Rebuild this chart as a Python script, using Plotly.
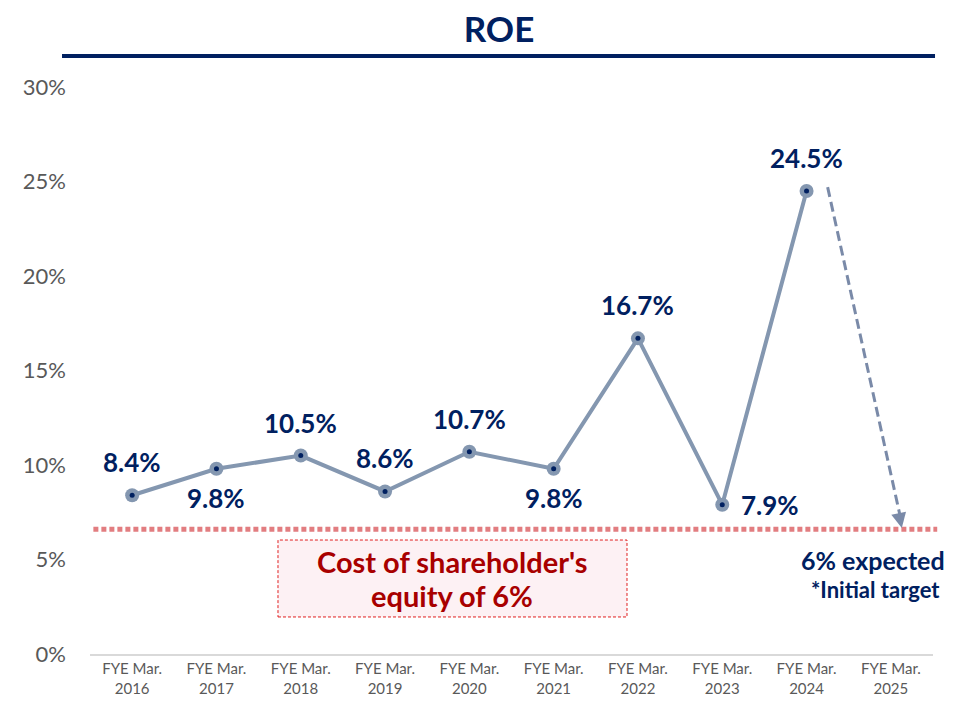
import plotly.graph_objects as go

# data
years = ["FYE Mar.<br>2016", "FYE Mar.<br>2017", "FYE Mar.<br>2018", "FYE Mar.<br>2019",
         "FYE Mar.<br>2020", "FYE Mar.<br>2021", "FYE Mar.<br>2022", "FYE Mar.<br>2023",
         "FYE Mar.<br>2024", "FYE Mar.<br>2025"]
roe = [8.4, 9.8, 10.5, 8.6, 10.7, 9.8, 16.7, 7.9, 24.5, None]
cost_of_equity_line = 6.6
y_ticks = [0, 5, 10, 15, 20, 25, 30]
y_tick_text = ["0%", "5%", "10%", "15%", "20%", "25%", "30%"]

# where each value label sits relative to its point
label_pos = ["above", "below", "above", "above", "above", "below", "above", "right", "above"]

NAVY = "#002060"
LINE = "#8497B0"
FONT = "Lato"
OFF = 8  # page body margin in the rendered html

fig = go.Figure()

fig.add_trace(go.Scatter(
    x=years, y=roe, mode="lines+markers",
    line=dict(color=LINE, width=4),
    marker=dict(size=14, color=LINE),
    hoverinfo="skip", showlegend=False,
))
fig.add_trace(go.Scatter(
    x=years, y=roe, mode="markers",
    marker=dict(size=5, color=NAVY),
    hoverinfo="skip", showlegend=False,
))

for i, (v, pos) in enumerate(zip(roe, label_pos)):
    kw = dict(x=i, y=v, text=f"<b>{v:.1f}%</b>", showarrow=False,
              font=dict(family=FONT, size=26, color=NAVY))
    if pos == "above":
        kw.update(yshift=33)
    elif pos == "below":
        kw.update(yshift=-29)
    else:
        kw.update(xanchor="left", xshift=17)
    fig.add_annotation(**kw)

# cost of equity dotted line
fig.add_shape(type="line", xref="paper", x0=0.004, x1=1.005,
              y0=cost_of_equity_line, y1=cost_of_equity_line,
              line=dict(color="#E27D80", width=5, dash="5px,3px"))

# cost of equity box
fig.add_shape(type="rect", x0=1.73, x1=5.87, y0=1.96, y1=6.03,
              fillcolor="#FDF1F4", line=dict(color="#E02020", width=1, dash="3px,2px"),
              layer="below")
fig.add_annotation(x=3.8, y=4.87, showarrow=False, text="<b>Cost of shareholder's</b>",
                   font=dict(family=FONT, size=29, color="#A80000"))
fig.add_annotation(x=3.8, y=3.12, showarrow=False, text="<b>equity of 6%</b>",
                   font=dict(family=FONT, size=29, color="#A80000"))

# dashed arrow to expected target
fig.add_shape(type="line", x0=8.25, y0=24.7, x1=9.11, y1=7.3,
              line=dict(color="#7A8AA8", width=3, dash="10px,5px"))
fig.add_annotation(x=9.13, y=6.67, ax=-3, ay=-14, axref="pixel", ayref="pixel",
                   showarrow=True, arrowhead=2, arrowsize=1, arrowwidth=3,
                   arrowcolor="#7A8AA8", text="")
fig.add_annotation(x=8.79, y=4.97, showarrow=False, text="<b>6% expected</b>",
                   font=dict(family=FONT, size=25, color=NAVY))
fig.add_annotation(x=8.82, y=3.4, showarrow=False, text="<b>*Initial target</b>",
                   font=dict(family=FONT, size=22, color=NAVY))

# title underline
fig.add_shape(type="line", xref="paper", yref="paper", x0=-0.0332, x1=1.0024,
              y0=1.0547, y1=1.0547, line=dict(color=NAVY, width=4))

fig.update_layout(
    width=955, height=702,
    margin=dict(l=90 - OFF, r=22 + OFF, t=87 - OFF, b=48 + OFF),
    paper_bgcolor="white", plot_bgcolor="white",
    title=dict(text="<b>ROE</b>", x=(499 - OFF) / 955, xanchor="center",
               y=1 - (30 - OFF) / 702, yanchor="middle",
               font=dict(family=FONT, size=35, color=NAVY)),
    xaxis=dict(
        type="category", range=[-0.5, 9.5], showgrid=False,
        showline=True, linecolor="#D9D9D9", linewidth=2,
        ticks="", tickfont=dict(family=FONT, size=15, color="#595959"),
    ),
    yaxis=dict(
        range=[0, 30], tickvals=y_ticks, ticktext=y_tick_text, showgrid=False,
        zeroline=False, ticks="", ticklabelstandoff=23,
        tickfont=dict(family=FONT, size=22, color="#595959"),
    ),
)

fig.write_html("out.html", config={"displayModeBar": False})
